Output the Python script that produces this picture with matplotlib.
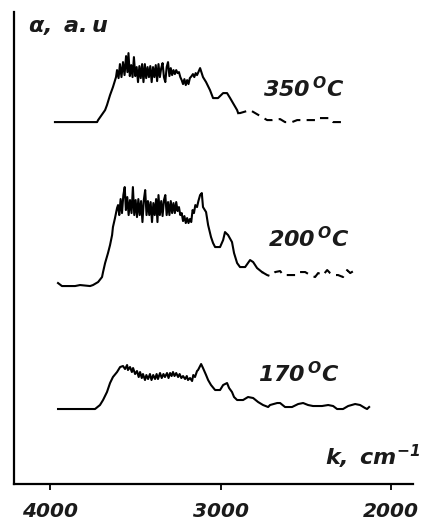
import matplotlib.pyplot as plt
import numpy as np

plt.rcParams["mathtext.fontset"] = "custom"
plt.rcParams["mathtext.bf"] = "DejaVu Sans:italic:bold"
plt.rcParams["mathtext.rm"] = "DejaVu Sans:italic:bold"

# wavenumber (cm-1) and absorbance (a.u.)
wn_350 = [3971, 3724, 3718, 3677, 3666, 3648, 3631, 3613, 3607,
          3598, 3590, 3581, 3572, 3563, 3554, 3546, 3540, 3532, 3524, 3516, 3508, 3500, 3492,
          3484, 3476, 3468, 3460, 3452, 3444, 3436, 3428, 3420, 3412, 3404, 3396, 3388, 3380,
          3372, 3364, 3356, 3348, 3340, 3332, 3324, 3316, 3308, 3300, 3292, 3284, 3276, 3268,
          3260, 3252, 3244, 3236, 3228, 3220, 3212, 3204, 3196, 3188, 3180, 3170, 3162, 3154,
          3146, 3138, 3130, 3120,
          3103, 3085, 3062, 3044, 3015, 2985, 2962, 2944, 2927, 2903, 2897]
a_350 = [0.00, 0.00, 0.02, 0.12, 0.17, 0.27, 0.35, 0.45, 0.52,
         0.44, 0.58, 0.45, 0.60, 0.47, 0.66, 0.50, 0.69, 0.46, 0.57, 0.45, 0.65, 0.46, 0.55,
         0.40, 0.56, 0.44, 0.58, 0.40, 0.58, 0.44, 0.55, 0.45, 0.56, 0.40, 0.55, 0.45, 0.57,
         0.41, 0.58, 0.45, 0.54, 0.59, 0.45, 0.40, 0.55, 0.60, 0.46, 0.54, 0.47, 0.52, 0.48,
         0.52, 0.49, 0.50, 0.45, 0.42, 0.38, 0.43, 0.37, 0.42, 0.38, 0.44, 0.46, 0.48, 0.45,
         0.49, 0.47, 0.50, 0.54,
         0.45, 0.40, 0.32, 0.24, 0.24, 0.29, 0.29, 0.24, 0.19, 0.12, 0.09]
wn_350_tail = [2897, 2886, 2827, 2757, 2727, 2698, 2651, 2622, 2581, 2551, 2475, 2434,
               2428, 2358, 2340, 2258]
a_350_tail = [0.09, 0.09, 0.12, 0.05, 0.02, 0.02, 0.03, 0.00, 0.00, 0.02, 0.02, 0.02,
              0.04, 0.04, 0.00, 0.00]

wn_200 = [3953, 3930, 3853, 3824, 3765, 3748, 3718, 3695, 3689, 3677, 3660, 3648, 3636,
          3631, 3619, 3607, 3601,
          3594, 3586, 3578, 3570, 3562, 3555, 3547, 3539, 3531, 3522, 3514, 3506, 3498, 3490,
          3482, 3474, 3466, 3458, 3450, 3442, 3434, 3426, 3418, 3410, 3402, 3394, 3386, 3378,
          3370, 3364, 3356, 3348, 3340, 3332, 3324, 3316, 3308, 3300, 3292, 3284, 3276, 3268,
          3260, 3252, 3244, 3236, 3228, 3220, 3212, 3204, 3196, 3188, 3180, 3172, 3164, 3156,
          3148, 3138, 3130, 3120, 3110,
          3103, 3085, 3073, 3056, 3044, 3032, 3003, 2985, 2974, 2956, 2933, 2921, 2903, 2886,
          2856, 2827, 2809, 2786, 2757]
a_200 = [0.02, -0.01, -0.01, 0.00, -0.01, 0.00, 0.03, 0.08, 0.13, 0.22, 0.32, 0.40, 0.50,
         0.58, 0.67, 0.77, 0.80,
         0.70, 0.86, 0.72, 0.90, 0.98, 0.75, 0.88, 0.70, 0.85, 0.72, 0.98, 0.70, 0.85, 0.68,
         0.86, 0.70, 0.84, 0.63, 0.85, 0.95, 0.70, 0.84, 0.70, 0.83, 0.63, 0.82, 0.70, 0.86,
         0.63, 0.90, 0.70, 0.84, 0.69, 0.85, 0.90, 0.70, 0.83, 0.70, 0.84, 0.72, 0.82, 0.72,
         0.83, 0.74, 0.78, 0.70, 0.72, 0.64, 0.69, 0.62, 0.67, 0.62, 0.66, 0.63, 0.75, 0.72,
         0.80, 0.78, 0.84, 0.90, 0.92,
         0.78, 0.73, 0.60, 0.48, 0.42, 0.38, 0.38, 0.45, 0.53, 0.50, 0.43, 0.32, 0.22, 0.18,
         0.18, 0.25, 0.23, 0.17, 0.13]
wn_200_tail = [2757, 2727, 2710, 2680, 2651, 2633, 2551, 2534, 2504, 2475, 2446, 2428,
               2399, 2375, 2358, 2340, 2311, 2282, 2258, 2240, 2211]
a_200_tail = [0.13, 0.10, 0.09, 0.13, 0.14, 0.10, 0.10, 0.13, 0.13, 0.10, 0.08, 0.12,
              0.10, 0.15, 0.12, 0.10, 0.10, 0.08, 0.15, 0.12, 0.15]

wn_170 = [3953, 3736, 3707, 3689, 3666, 3648, 3631, 3607, 3589, 3572,
          3560, 3548, 3543, 3531, 3520, 3513, 3501, 3490, 3480, 3472, 3462, 3455, 3443, 3435,
          3425, 3414, 3405, 3395, 3384, 3375, 3367, 3355, 3345, 3335, 3326, 3314, 3305, 3296,
          3287, 3279, 3270, 3260, 3249, 3240, 3230, 3220, 3208, 3198, 3191, 3179, 3167, 3160,
          3150, 3138, 3132, 3114,
          3103, 3085, 3073, 3056, 3032, 3003, 2985, 2962, 2950, 2933, 2921, 2903, 2868, 2839,
          2809, 2780, 2751, 2721, 2710, 2668, 2651, 2622, 2581, 2545, 2516, 2487, 2458, 2405,
          2369, 2340, 2317, 2282, 2252, 2211, 2182, 2153, 2141, 2129]
a_170 = [0.00, 0.00, 0.04, 0.09, 0.17, 0.26, 0.32, 0.37, 0.42, 0.43,
         0.40, 0.44, 0.39, 0.42, 0.37, 0.41, 0.35, 0.38, 0.32, 0.37, 0.31, 0.35, 0.29, 0.34,
         0.30, 0.35, 0.29, 0.34, 0.30, 0.35, 0.30, 0.36, 0.31, 0.35, 0.32, 0.36, 0.31, 0.36,
         0.33, 0.37, 0.33, 0.36, 0.32, 0.35, 0.31, 0.33, 0.30, 0.33, 0.29, 0.31, 0.28, 0.34,
         0.32, 0.38, 0.39, 0.45,
         0.41, 0.34, 0.29, 0.24, 0.19, 0.19, 0.24, 0.26, 0.21, 0.17, 0.12, 0.09, 0.09, 0.12,
         0.11, 0.07, 0.04, 0.02, 0.04, 0.06, 0.06, 0.02, 0.02, 0.05, 0.06, 0.04, 0.03, 0.03,
         0.04, 0.03, 0.00, 0.00, 0.03, 0.05, 0.04, 0.01, 0.00, 0.02]

# vertical stacking of the spectra
offset_350 = 3.62
offset_200 = 1.99
offset_170 = 0.75

fig = plt.figure(figsize=(4.21, 5.22), dpi=100)
ax = fig.add_axes([0.0333, 0.0728, 0.948, 0.904])

lw = 1.5
ax.plot(wn_350, np.array(a_350) + offset_350, color="black", lw=lw)
ax.plot(wn_350_tail, np.array(a_350_tail) + offset_350, color="black", lw=lw,
        linestyle=(0, (4, 3)))
ax.plot(wn_200, np.array(a_200) + offset_200, color="black", lw=lw)
ax.plot(wn_200_tail, np.array(a_200_tail) + offset_200, color="black", lw=lw,
        linestyle=(0, (4, 3)))
ax.plot(wn_170, np.array(a_170) + offset_170, color="black", lw=lw)

lab = dict(color="#1a1a1a", fontsize=16, ha="left", va="baseline")
ax.text(2751, offset_350 + 0.25, r"$\mathbf{350^{\,O}C}$", **lab)
ax.text(2721, offset_200 + 0.38, r"$\mathbf{200^{\,O}C}$", **lab)
ax.text(2780, offset_170 + 0.27, r"$\mathbf{170^{\,O}C}$", **lab)

ax.text(4129, 4.52, r"$\mathbf{\alpha,\ a.u}$", **lab)
ax.text(2387, 0.19, r"$\mathbf{k,\ cm^{-1}}$", **lab)

ax.set_xlim(4211, 1871)
ax.set_ylim(0, 4.72)
ax.set_xticks([4000, 3000, 2000])
ax.set_xticklabels(["4000", "3000", "2000"], fontsize=14.5, fontweight="bold",
                   fontstyle="italic", color="#1a1a1a")
ax.set_yticks([])
ax.tick_params(axis="x", direction="out", length=4, width=1.3, pad=9)
for side in ["top", "right"]:
    ax.spines[side].set_visible(False)
for side in ["left", "bottom"]:
    ax.spines[side].set_linewidth(1.6)

fig.savefig("out.png", dpi=100)
